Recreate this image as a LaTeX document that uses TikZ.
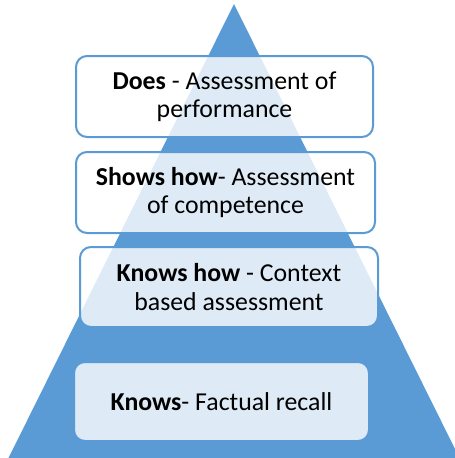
\documentclass[tikz,border=0pt]{standalone}
\usepackage{fontspec}
\setmainfont{Carlito}
\definecolor{pyrblue}{HTML}{5B9BD5}
\begin{document}
\begin{tikzpicture}[x=1pt,y=-1pt,
  lvl/.style={draw=pyrblue, line width=2pt, fill=white, fill opacity=0.8, text opacity=1,
    rounded corners=11pt, align=center, text=black, inner sep=0pt,
    font=\fontsize{25.8}{28.5}\selectfont},
]
\useasboundingbox (0,0) rectangle (455,458);
\clip (0,0) rectangle (455,458);
\fill[pyrblue] (234,4) coordinate (apex) -- (8,459) coordinate (bl) -- (460,459) coordinate (br) -- cycle;
\node[lvl, minimum width=297pt, minimum height=81pt] (does) at (224.5,96.5)
  {\textbf{Does} - Assessment of\\performance};
\node[lvl, minimum width=299pt, minimum height=81pt] (shows) at (225.5,192.5)
  {\textbf{Shows how}- Assessment\\of competence};
\node[lvl, minimum width=298pt, minimum height=80pt] (knowshow) at (229,287)
  {\textbf{Knows how} - Context\\based assessment};
\node[lvl, minimum width=295pt, minimum height=79pt] (knows) at (221.5,401.5)
  {\textbf{Knows}- Factual recall};
\end{tikzpicture}
\end{document}
